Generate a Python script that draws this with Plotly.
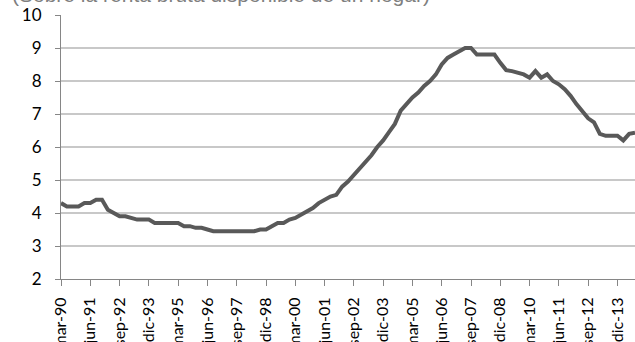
import plotly.graph_objects as go

# Quarter labels, March 1990 onwards
months = ["mar", "jun", "sep", "dic"]
years = list(range(1990, 2015))
quarters = [f"{m}-{str(y)[2:]}" for y in years for m in months][:99]

# Mortgage effort, % of gross disposable household income
effort = [
    4.3, 4.2, 4.2, 4.2, 4.3, 4.3, 4.4, 4.4, 4.1, 4.0,
    3.9, 3.9, 3.85, 3.8, 3.8, 3.8, 3.7, 3.7, 3.7, 3.7,
    3.7, 3.6, 3.6, 3.55, 3.55, 3.5, 3.45, 3.45, 3.45, 3.45,
    3.45, 3.45, 3.45, 3.45, 3.5, 3.5, 3.6, 3.7, 3.7, 3.8,
    3.85, 3.95, 4.05, 4.15, 4.3, 4.4, 4.5, 4.55, 4.8, 4.95,
    5.15, 5.35, 5.55, 5.75, 6.0, 6.2, 6.45, 6.7, 7.1, 7.3,
    7.5, 7.65, 7.85, 8.0, 8.2, 8.5, 8.7, 8.8, 8.9, 9.0,
    9.0, 8.8, 8.8, 8.8, 8.8, 8.55, 8.33, 8.3, 8.25, 8.2,
    8.1, 8.3, 8.1, 8.2, 8.0, 7.9, 7.75, 7.55, 7.3, 7.1,
    6.87, 6.75, 6.4, 6.34, 6.34, 6.34, 6.2, 6.4, 6.43,
]

tick_labels = quarters[0:96:5]
y_ticks = [2, 3, 4, 5, 6, 7, 8, 9, 10]

fig = go.Figure()
fig.add_trace(go.Scatter(
    x=quarters, y=effort, mode="lines",
    line=dict(color="#595959", width=4),
    hoverinfo="skip", showlegend=False,
))

y_font = dict(family="Lato, Carlito, Calibri, sans-serif", size=17, color="#000000")
x_font = dict(family="Lato, Carlito, Calibri, sans-serif", size=16, color="#000000")

fig.update_layout(
    width=635, height=342,
    margin=dict(l=61, r=0, t=15, b=63, pad=0),
    paper_bgcolor="white", plot_bgcolor="white",
    xaxis=dict(
        type="category", range=[0, 98],
        tickmode="array", tickvals=tick_labels, ticktext=tick_labels,
        tickangle=-90, ticks="outside", ticklen=6, tickcolor="#868686",
        showline=True, linecolor="#868686", linewidth=1,
        showgrid=False, zeroline=False, tickfont=x_font,
        automargin=False, ticklabelstandoff=5,
    ),
    yaxis=dict(
        range=[2, 10], tickvals=y_ticks,
        ticks="outside", ticklen=5, tickcolor="#868686",
        showline=True, linecolor="#868686", linewidth=1,
        showgrid=True, gridcolor="#c8c8c8", gridwidth=1.5,
        zeroline=False, tickfont=y_font, automargin=False,
        ticklabelstandoff=10,
    ),
    annotations=[dict(
        text="(Sobre la renta bruta disponible de un hogar)",
        xref="paper", yref="paper", x=-0.089, y=1.079,
        xanchor="left", yanchor="middle", showarrow=False,
        font=dict(family="Liberation Sans, Arial, sans-serif", size=21, color="#7f7f7f"),
    )],
)

fig.write_html("out.html")
